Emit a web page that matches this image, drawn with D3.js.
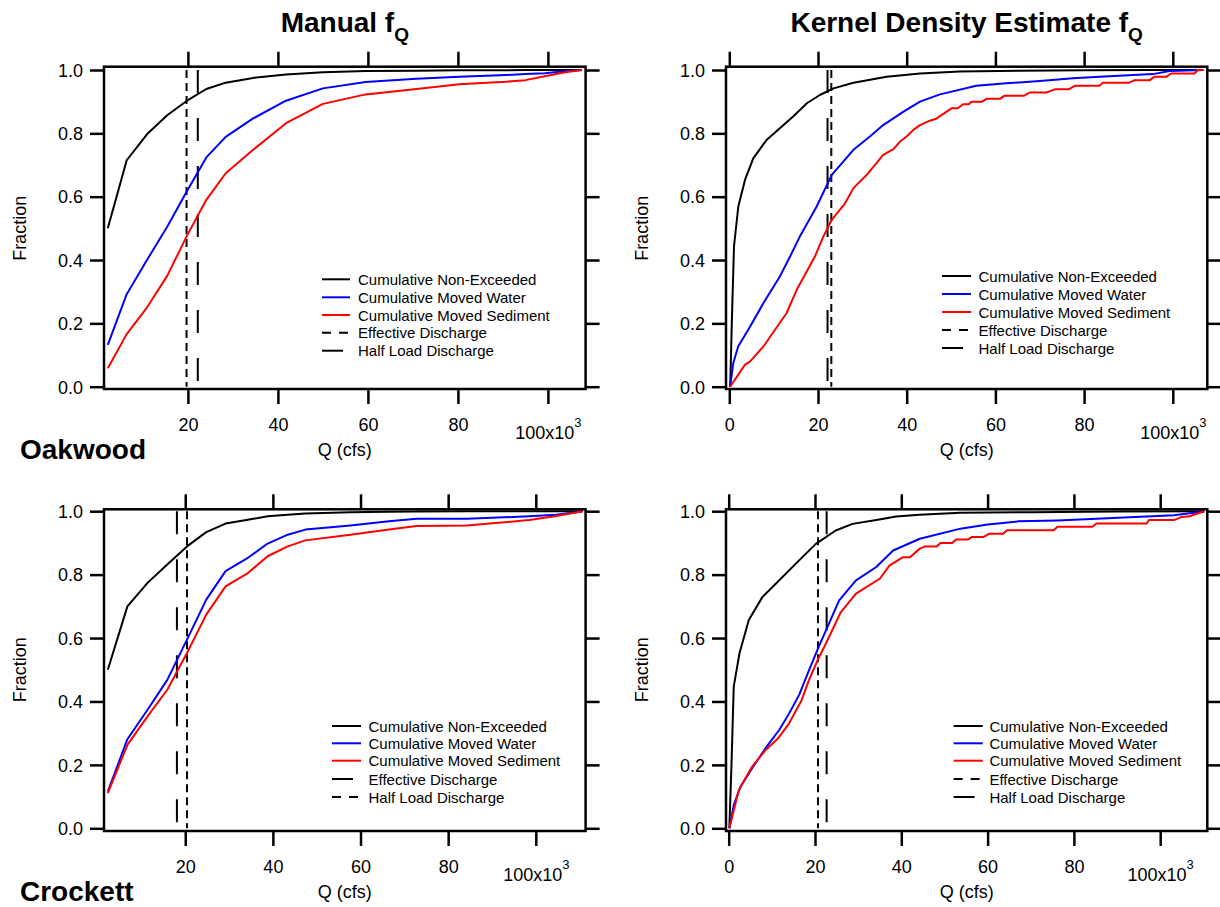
<!DOCTYPE html>
<html><head><meta charset="utf-8">
<script src="https://cdn.jsdelivr.net/npm/d3@7"></script>
<style>
body{margin:0;background:#fff}
svg{display:block}
text{font-family:"Liberation Sans",Arial,Helvetica,sans-serif;fill:#000}
</style>
</head><body>
<svg id="c" width="1220" height="907"></svg>
<script>
// ---------------- DATA ----------------
const yTicks = [0, 0.2, 0.4, 0.6, 0.8, 1.0];
const xTicksManual = [20, 40, 60, 80, 100];
const xTicksKde = [0, 20, 40, 60, 80, 100];
const legendLabels = ["Cumulative Non-Exceeded", "Cumulative Moved Water", "Cumulative Moved Sediment", "Effective Discharge", "Half Load Discharge"];
const columnTitles = ["Manual f", "Kernel Density Estimate f"];
const siteNames = ["Oakwood", "Crockett"];

// Oakwood, manual fQ (Q in 10^3 cfs)
const oakManQ      = [2.2, 6.4, 10.9, 15.4, 19.8, 24.1, 28.4, 34.5, 41.8, 50.0, 59.5, 70.8, 80.3, 90.7, 95.0, 99.3, 103.5, 107.5];
const oakManNonExc = [0.50, 0.715, 0.797, 0.857, 0.903, 0.940, 0.960, 0.975, 0.986, 0.993, 0.997, 0.998, 0.999, 0.999, 1.0, 1.0, 1.0, 1.0];
const oakManWater  = [0.132, 0.292, 0.400, 0.505, 0.618, 0.724, 0.789, 0.847, 0.903, 0.942, 0.962, 0.972, 0.979, 0.984, 0.987, 0.990, 0.996, 1.0];
const oakManSed    = [0.058, 0.166, 0.250, 0.350, 0.477, 0.590, 0.674, 0.748, 0.832, 0.893, 0.923, 0.940, 0.955, 0.963, 0.968, 0.980, 0.992, 1.0];
const oakManEffective = 19.7, oakManHalfLoad = 22.2;

// Oakwood, kernel density estimate fQ
const oakKdeNonExcQ = [0.2, 0.6, 1.06, 2.03, 3.54, 5.4, 8.4, 11.4, 14.4, 17.5, 20.4, 23.5, 28.0, 35.5, 43.0, 52, 65, 80, 95, 106.9];
const oakKdeNonExc  = [0, 0.22, 0.443, 0.569, 0.653, 0.721, 0.779, 0.816, 0.853, 0.895, 0.921, 0.942, 0.96, 0.979, 0.989, 0.995, 0.998, 0.999, 1.0, 1.0];
const oakKdeWaterQ  = [0.2, 0.9, 2.0, 4.7, 7.7, 11.4, 13.7, 15.9, 19.7, 23.1, 28.0, 31.7, 34.7, 39.2, 43.0, 47.5, 55.7, 62.5, 70.7, 77.5, 83.5, 95.5, 99.3, 106.9];
const oakKdeWater   = [0, 0.075, 0.127, 0.19, 0.264, 0.348, 0.411, 0.474, 0.569, 0.669, 0.748, 0.79, 0.826, 0.868, 0.90, 0.923, 0.95, 0.958, 0.966, 0.974, 0.979, 0.987, 0.997, 1.0];
const oakKdeSedQ    = [0.2, 3.5, 4.7, 7.7, 10.3, 12.9, 15.2, 17.3, 19.3, 21.2, 23.1, 26.1, 28.0, 31.0, 34.7, 37.0, 38.5, 40.0, 41.5, 43.0, 45.2, 46.5, 50.1, 51.5, 52.7, 54.0, 54.6, 57.0, 58.0, 61.0, 62.1, 66.5, 67.7, 71.5, 73.4, 76.5, 77.9, 83.5, 84.2, 90.2, 91.4, 94.8, 95.9, 98.6, 99.6, 104.9, 105.6, 106.8];
const oakKdeSed     = [0, 0.069, 0.08, 0.127, 0.18, 0.232, 0.306, 0.36, 0.411, 0.474, 0.527, 0.579, 0.627, 0.669, 0.732, 0.75, 0.774, 0.79, 0.811, 0.826, 0.84, 0.845, 0.879, 0.879, 0.892, 0.892, 0.9, 0.9, 0.909, 0.909, 0.919, 0.919, 0.929, 0.929, 0.939, 0.939, 0.95, 0.95, 0.96, 0.96, 0.968, 0.968, 0.979, 0.979, 0.989, 0.989, 1.0, 1.0];
const oakKdeEffective = 23.0, oakKdeHalfLoad = 22.15;

// Crockett, manual fQ
const crkManQ      = [2.33, 6.8, 11.4, 15.9, 20.4, 24.8, 29.2, 34.3, 38.8, 43.4, 47.4, 57.7, 66.5, 72.8, 84.3, 98.5, 104.7, 110.7];
const crkManNonExc = [0.50, 0.70, 0.774, 0.832, 0.889, 0.934, 0.961, 0.973, 0.984, 0.989, 0.993, 0.997, 0.998, 0.999, 1.0, 1.0, 1.0, 1.0];
const crkManWater  = [0.116, 0.281, 0.374, 0.468, 0.595, 0.721, 0.811, 0.853, 0.898, 0.926, 0.942, 0.955, 0.968, 0.976, 0.976, 0.984, 0.989, 1.0];
const crkManSed    = [0.111, 0.263, 0.353, 0.437, 0.553, 0.674, 0.763, 0.805, 0.858, 0.889, 0.908, 0.926, 0.942, 0.953, 0.955, 0.972, 0.985, 1.0];
const crkManEffective = 18.1, crkManHalfLoad = 20.4;

// Crockett, kernel density estimate fQ
const crkKdeNonExcQ = [0.15, 0.63, 1.17, 2.5, 4.66, 7.8, 10.9, 15.5, 20.2, 24.8, 28.7, 34.9, 38.8, 44.2, 53.7, 70, 90, 110.2];
const crkKdeNonExc  = [0, 0.195, 0.447, 0.552, 0.657, 0.729, 0.771, 0.834, 0.897, 0.939, 0.96, 0.974, 0.983, 0.989, 0.995, 0.997, 0.999, 1.0];
const crkKdeWaterQ  = [0.15, 1.17, 2.72, 5.4, 8.5, 11.7, 14.0, 16.3, 18.6, 21.0, 22.9, 25.6, 29.5, 34.2, 38.1, 44.3, 53.7, 60.0, 67.2, 76.2, 85.2, 94.2, 103.2, 107.8, 110.2];
const crkKdeWater   = [0, 0.073, 0.131, 0.189, 0.252, 0.31, 0.362, 0.42, 0.498, 0.577, 0.635, 0.719, 0.782, 0.824, 0.876, 0.913, 0.945, 0.958, 0.968, 0.971, 0.976, 0.982, 0.987, 0.995, 1.0];
const crkKdeSedQ    = [0.15, 2.33, 5.4, 8.5, 11.4, 14.0, 16.9, 18.6, 20.6, 22.5, 26.0, 29.5, 35.0, 37.3, 40.4, 42.0, 44.3, 45.5, 48.2, 49.1, 51.8, 52.7, 55.5, 56.4, 59.1, 60.4, 63.6, 64.5, 75.3, 76.2, 84.3, 85.2, 96.9, 97.4, 103.2, 105.0, 106.8, 110.2];
const crkKdeSed     = [0, 0.12, 0.194, 0.246, 0.283, 0.331, 0.404, 0.467, 0.53, 0.582, 0.682, 0.74, 0.787, 0.829, 0.855, 0.855, 0.882, 0.889, 0.889, 0.90, 0.90, 0.911, 0.911, 0.919, 0.919, 0.929, 0.929, 0.94, 0.94, 0.951, 0.951, 0.961, 0.961, 0.972, 0.972, 0.982, 0.984, 1.0];
const crkKdeEffective = 20.7, crkKdeHalfLoad = 22.7;

// ---------------- LAYOUT ----------------
const FONT = '"Liberation Sans", Arial, Helvetica, sans-serif';
const SHORT = "8,5", LONG = "23,25";
const colors = {nonexc: "#000000", water: "#0000ff", sed: "#ff0000"};

const panels = [
  {box:[104, 585.6, 66.7, 389], x0:97.9, x100:547.9, y0:386.7, y1:70, xTicks:xTicksManual, title:columnTitles[0], site:siteNames[0],
   series:[[oakManQ, oakManNonExc, colors.nonexc], [oakManQ, oakManWater, colors.water], [oakManQ, oakManSed, colors.sed]],
   eff:oakManEffective, half:oakManHalfLoad, effStyle:"short", halfStyle:"long",
   leg:{x1:322, x2:350, tx:358, rows:[279.3, 297.3, 315, 332.7, 350.7]}},
  {box:[726, 1207.3, 66.7, 389], x0:729.3, x100:1172.8, y0:386.7, y1:70, xTicks:xTicksKde, title:columnTitles[1], site:null,
   series:[[oakKdeNonExcQ, oakKdeNonExc, colors.nonexc], [oakKdeWaterQ, oakKdeWater, colors.water], [oakKdeSedQ, oakKdeSed, colors.sed]],
   eff:oakKdeEffective, half:oakKdeHalfLoad, effStyle:"short", halfStyle:"long",
   leg:{x1:942, x2:971, tx:978.5, rows:[276, 294, 312, 330, 348]}},
  {box:[104, 585.6, 509.3, 831], x0:97.6, x100:535.8, y0:828.3, y1:511.2, xTicks:xTicksManual, title:null, site:siteNames[1],
   series:[[crkManQ, crkManNonExc, colors.nonexc], [crkManQ, crkManWater, colors.water], [crkManQ, crkManSed, colors.sed]],
   eff:crkManEffective, half:crkManHalfLoad, effStyle:"long", halfStyle:"short",
   leg:{x1:332, x2:361, tx:368.5, rows:[726, 743.3, 760.7, 779, 797]}},
  {box:[726, 1207.3, 509.3, 831], x0:728.7, x100:1160.2, y0:828.3, y1:511.2, xTicks:xTicksKde, title:null, site:null,
   series:[[crkKdeNonExcQ, crkKdeNonExc, colors.nonexc], [crkKdeWaterQ, crkKdeWater, colors.water], [crkKdeSedQ, crkKdeSed, colors.sed]],
   eff:crkKdeEffective, half:crkKdeHalfLoad, effStyle:"short", halfStyle:"long",
   leg:{x1:953.6, x2:982.8, tx:989.4, rows:[726, 743.3, 760.7, 779, 797]}}
];

const svg = d3.select("#c");

panels.forEach((p, pi) => {
  const [L, R, T, B] = p.box;
  const x = d3.scaleLinear().domain([0, 100]).range([p.x0, p.x100]);
  const y = d3.scaleLinear().domain([0, 1]).range([p.y0, p.y1]);
  const g = svg.append("g");

  const cid = "clip" + pi;
  svg.append("clipPath").attr("id", cid).append("rect")
    .attr("x", L).attr("y", T).attr("width", R - L).attr("height", B - T);
  const plot = g.append("g").attr("clip-path", `url(#${cid})`);

  // vertical discharge lines
  const dashOf = s => s === "short" ? SHORT : LONG;
  [[p.eff, p.effStyle], [p.half, p.halfStyle]].forEach(([q, st]) => {
    plot.append("line")
      .attr("x1", x(q)).attr("x2", x(q)).attr("y1", y(1)).attr("y2", y(0))
      .attr("stroke", "#000").attr("stroke-width", 2)
      .attr("stroke-dasharray", dashOf(st));
  });

  // curves
  const line = d3.line().x(d => x(d[0])).y(d => y(d[1]));
  p.series.forEach(([qs, fs, col]) => {
    const pts = qs.map((q, i) => [q, fs[i]]);
    plot.append("path").datum(pts)
      .attr("d", line).attr("fill", "none")
      .attr("stroke", col).attr("stroke-width", 2).attr("stroke-linejoin", "round");
  });

  // box
  g.append("rect").attr("x", L).attr("y", T).attr("width", R - L).attr("height", B - T)
    .attr("fill", "none").attr("stroke", "#000").attr("stroke-width", 2.5);

  // axes
  const styleAxis = sel => {
    sel.select(".domain").remove();
    sel.selectAll(".tick line").attr("stroke", "#000").attr("stroke-width", 2.5);
    sel.selectAll("text").attr("font-family", FONT).attr("fill", "#000");
  };
  const yl = g.append("g").attr("transform", `translate(${L},0)`)
    .call(d3.axisLeft(y).tickValues(yTicks).tickSize(14).tickPadding(7).tickFormat(d3.format(".1f")));
  styleAxis(yl);
  yl.selectAll("text").attr("font-size", 18).attr("dy", "0.35em");

  const yr = g.append("g").attr("transform", `translate(${R},0)`)
    .call(d3.axisRight(y).tickValues(yTicks).tickSize(14).tickFormat(""));
  styleAxis(yr);

  const xt = g.append("g").attr("transform", `translate(0,${T})`)
    .call(d3.axisTop(x).tickValues(p.xTicks).tickSize(15).tickFormat(""));
  styleAxis(xt);

  const xb = g.append("g").attr("transform", `translate(0,${B})`)
    .call(d3.axisBottom(x).tickValues(p.xTicks).tickSize(15).tickFormat(d => d === 100 ? "" : d3.format("d")(d)));
  styleAxis(xb);
  xb.selectAll("text").attr("font-size", 18).attr("dy", null).attr("y", 42);
  xb.selectAll(".tick").filter(d => d === 100).select("text")
    .attr("y", 50)
    .call(t => {
      t.append("tspan").text("100x10");
      t.append("tspan").text("3").attr("font-size", 13).attr("dy", -12);
    });

  // axis labels
  const cx = (L + R) / 2;
  g.append("text").attr("x", cx).attr("y", B + 67).attr("text-anchor", "middle")
    .attr("font-size", 18).text("Q (cfs)");
  const fy = (p.y0 + p.y1) / 2;
  g.append("text").attr("transform", `translate(${L - 78.5},${fy}) rotate(-90)`)
    .attr("text-anchor", "middle").attr("font-size", 18).text("Fraction");

  // title
  if (p.title) {
    const t = g.append("text").attr("x", cx).attr("y", 31.7).attr("text-anchor", "middle")
      .attr("font-size", 28).attr("font-weight", "bold");
    t.append("tspan").text(p.title);
    t.append("tspan").text("Q").attr("font-size", 19).attr("dy", 9);
  }
  if (p.site) {
    g.append("text").attr("x", 20).attr("y", B + 70).attr("font-size", 28)
      .attr("font-weight", "bold").text(p.site);
  }

  // legend
  const lg = g.append("g");
  const legStyles = [
    {col: colors.nonexc}, {col: colors.water}, {col: colors.sed},
    {col: "#000", st: p.effStyle}, {col: "#000", st: p.halfStyle}
  ];
  legStyles.forEach((s, i) => {
    const yy = p.leg.rows[i];
    let x2 = p.leg.x2, dash = null;
    if (s.st === "short") dash = "9,8";
    if (s.st === "long") x2 = p.leg.x1 + 21;
    lg.append("line").attr("x1", p.leg.x1).attr("x2", x2).attr("y1", yy).attr("y2", yy)
      .attr("stroke", s.col).attr("stroke-width", 2).attr("stroke-dasharray", dash);
    lg.append("text").attr("x", p.leg.tx).attr("y", yy + 5.5).attr("font-size", 15).text(legendLabels[i]);
  });
});
</script>
</body></html>
